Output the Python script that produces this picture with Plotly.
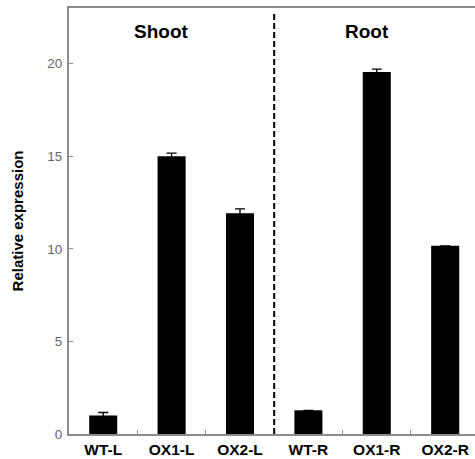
import plotly.graph_objects as go

categories = ["WT-L", "OX1-L", "OX2-L", "WT-R", "OX1-R", "OX2-R"]
values = [1.0, 15.0, 11.92, 1.28, 19.54, 10.16]
errors = [0.16, 0.17, 0.23, 0.0, 0.16, 0.0]
y_ticks = [0, 5, 10, 15, 20]
group_labels = ["Shoot", "Root"]
group_label_x = [0.85, 3.85]

FONT = "Liberation Sans, Arial, sans-serif"
AXIS = "#8c8c8c"

fig = go.Figure()
fig.add_trace(go.Bar(
    x=categories, y=values, width=0.41,
    marker=dict(color="black", line=dict(width=0)),
    error_y=dict(type="data", array=errors, visible=True, color="black",
                 thickness=1.3, width=5),
    showlegend=False,
))

for lbl, xv in zip(group_labels, group_label_x):
    fig.add_annotation(x=xv, y=21.73, xref="x", yref="y", text=f"<b>{lbl}</b>",
                       showarrow=False, font=dict(family=FONT, size=19, color="black"))

fig.add_shape(type="line", xref="x", yref="y", x0=2.5, x1=2.5, y0=0, y1=22.75,
              line=dict(color="black", width=2, dash="6px,3px"))

fig.update_layout(
    width=475, height=459,
    margin=dict(l=69, r=0, t=8, b=25, autoexpand=False),
    paper_bgcolor="white", plot_bgcolor="white",
    font=dict(family=FONT),
    bargap=0.59,
    xaxis=dict(
        type="category", range=[-0.5, 5.436], automargin=False,
        showline=True, linecolor=AXIS, linewidth=2, mirror=True,
        ticks="inside", ticklen=4, tickcolor=AXIS, tickwidth=1,
        tickson="boundaries", showgrid=False, zeroline=False,
        tickfont=dict(family=FONT, size=15.5, color="black", weight="bold"),
    ),
    yaxis=dict(
        range=[0, 23], tickvals=y_ticks, automargin=False,
        showline=True, linecolor=AXIS, linewidth=2,
        ticks="inside", ticklen=4, tickcolor=AXIS, tickwidth=1,
        showgrid=False, zeroline=False,
        tickfont=dict(family=FONT, size=13.5, color="#666666"),
        ticklabelstandoff=2,
        title=dict(text="<b>Relative expression</b>", standoff=20,
                   font=dict(family=FONT, size=15, color="black")),
    ),
)

fig.write_html("out.html", config={"displayModeBar": False},
               post_script="document.body.style.margin='0px';")
